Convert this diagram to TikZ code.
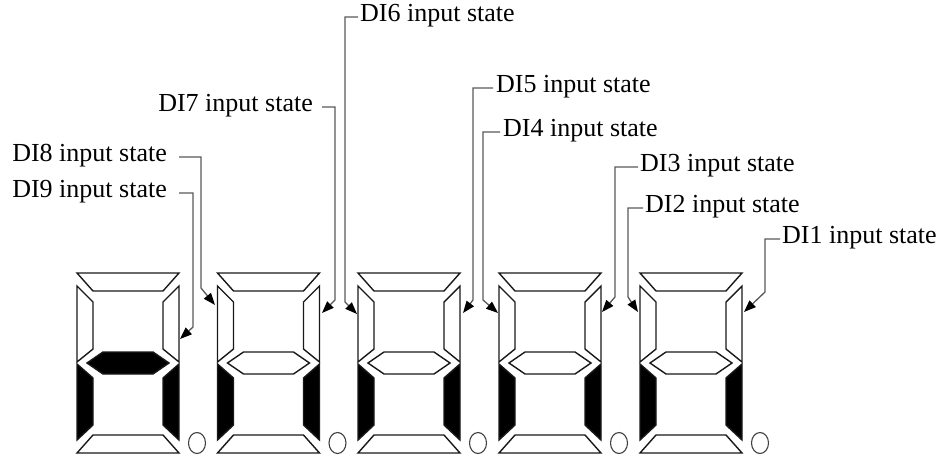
\documentclass[tikz,border=0pt]{standalone}
\usepackage{fontspec}
\setmainfont{Liberation Serif}
\usetikzlibrary{arrows.meta}
\tikzset{
  seg/.style={draw=black!90, line width=1.4pt, line join=miter, fill=white},
  segon/.style={seg, fill=black},
  dp/.style={draw=black!75, line width=1.1pt},
  conn/.style={draw=black!65, line width=1.3pt, -{Triangle[length=12pt,width=9pt,color=black]}},
  lbl/.style={font=\fontsize{26}{30}\selectfont, inner sep=0pt, yshift=-2.5pt}
}
\newcommand{\sevenseg}[3]{%
  % #1 = left x, #2 = style for middle segment, #3 = name
  \begin{scope}[shift={(#1,273)}]
    \path[seg] (0,0) -- (102,0) -- (86,18) -- (16,18) -- cycle;
    \path[seg] (0,13) -- (16,29) -- (16,76) -- (0,89) -- cycle;
    \path[seg] (102,13) -- (86,29) -- (86,76) -- (102,89) -- cycle;
    \path[#2] (10,90) -- (26,79) -- (76,79) -- (92,90) -- (76,101) -- (26,101) -- cycle;
    \path[segon] (0,91) -- (16,105) -- (16,152) -- (0,167) -- cycle;
    \path[segon] (102,91) -- (86,105) -- (86,152) -- (102,167) -- cycle;
    \path[seg] (16,162) -- (86,162) -- (102,180) -- (0,180) -- cycle;
    \draw[dp] (120,170) ellipse [x radius=8.5, y radius=10.5];
    \coordinate (#3) at (0,0);
  \end{scope}}
\begin{document}
\begin{tikzpicture}[x=1pt, y=-1pt]
  \useasboundingbox (0,0) rectangle (941,457);
  \sevenseg{77}{segon}{d1}
  \sevenseg{217.5}{seg}{d2}
  \sevenseg{358}{seg}{d3}
  \sevenseg{499}{seg}{d4}
  \sevenseg{640}{seg}{d5}

  % labels
  \node[lbl, anchor=mid east] (l8) at (167,157) {DI8 input state};
  \node[lbl, anchor=mid east] (l9) at (167,193) {DI9 input state};
  \node[lbl, anchor=mid east] (l7) at (313,107) {DI7 input state};
  \node[lbl, anchor=mid west] (l6) at (360,17) {DI6 input state};
  \node[lbl, anchor=mid west] (l5) at (496,88) {DI5 input state};
  \node[lbl, anchor=mid west] (l4) at (503,132) {DI4 input state};
  \node[lbl, anchor=mid west] (l3) at (640,167) {DI3 input state};
  \node[lbl, anchor=mid west] (l2) at (645,208) {DI2 input state};
  \node[lbl, anchor=mid west] (l1) at (782,239) {DI1 input state};

  % bends and tips
  \coordinate (c8) at (201,288); \coordinate (t8) at (215,305);
  \coordinate (c9) at (193,327); \coordinate (t9) at (180,339);
  \coordinate (c7) at (335,300); \coordinate (t7) at (322,313);
  \coordinate (c6) at (345,302); \coordinate (t6) at (357,314);
  \coordinate (c5) at (473,300); \coordinate (t5) at (463,313);
  \coordinate (c4) at (483,300); \coordinate (t4) at (498,313);
  \coordinate (c3) at (615,297); \coordinate (t3) at (602,312);
  \coordinate (c2) at (628,297); \coordinate (t2) at (638,312);
  \coordinate (c1) at (765,292); \coordinate (t1) at (744,312);

  \draw[conn] ([xshift=12pt,yshift=2.5pt]l8.mid east) -| (c8) -- (t8);
  \draw[conn] ([xshift=12pt,yshift=2.5pt]l9.mid east) -| (c9) -- (t9);
  \draw[conn] ([xshift=9pt,yshift=2.5pt]l7.mid east) -| (c7) -- (t7);
  \draw[conn] ([xshift=-2pt,yshift=2.5pt]l6.mid west) -| (c6) -- (t6);
  \draw[conn] ([xshift=-3pt,yshift=2.5pt]l5.mid west) -| (c5) -- (t5);
  \draw[conn] ([xshift=-3pt,yshift=2.5pt]l4.mid west) -| (c4) -- (t4);
  \draw[conn] ([xshift=-2pt,yshift=2.5pt]l3.mid west) -| (c3) -- (t3);
  \draw[conn] ([xshift=-2pt,yshift=2.5pt]l2.mid west) -| (c2) -- (t2);
  \draw[conn] ([xshift=-2pt,yshift=2.5pt]l1.mid west) -| (c1) -- (t1);
\end{tikzpicture}
\end{document}
